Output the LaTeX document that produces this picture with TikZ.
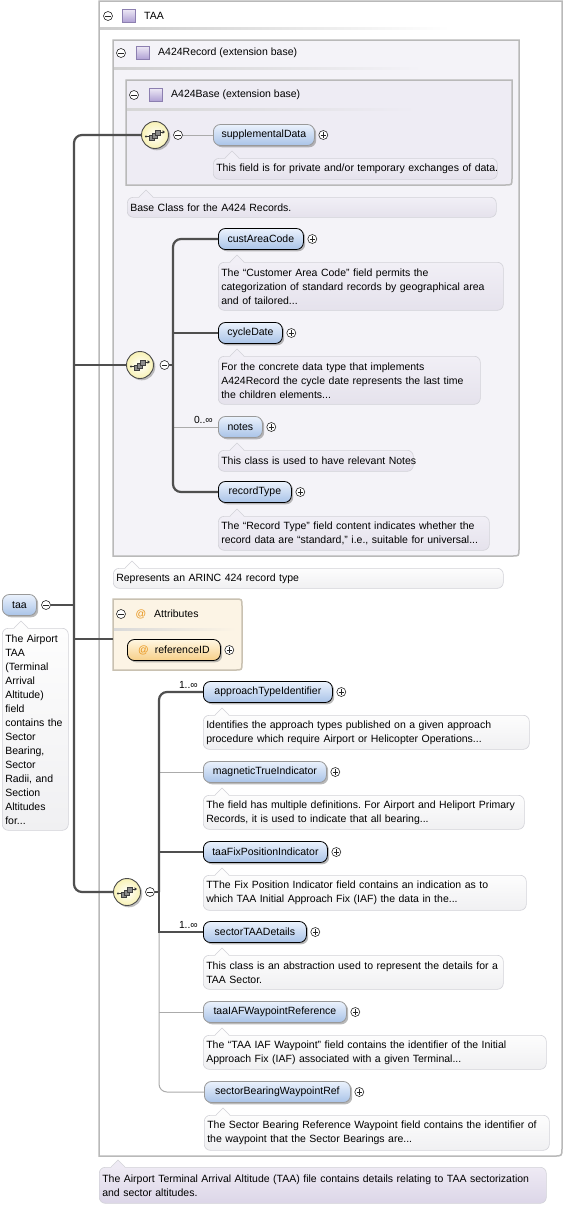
\documentclass[tikz,border=0pt]{standalone}
\usepackage{fontspec}
\setmainfont{Liberation Sans}
\usetikzlibrary{calc,shadows}
\frenchspacing
\definecolor{elTop}{HTML}{EBF2FC}
\definecolor{elBot}{HTML}{A9C3E7}
\definecolor{atTop}{HTML}{FFF7E2}
\definecolor{atBot}{HTML}{F7CF88}
\definecolor{atOrange}{HTML}{E8961E}
\definecolor{bubBorder}{HTML}{D2D2D8}
\definecolor{bubTop}{HTML}{FDFDFD}
\definecolor{bubBot}{HTML}{F0F0F2}
\definecolor{lavTop}{HTML}{F1EFF6}
\definecolor{lavBot}{HTML}{E5E2EC}
\definecolor{finTop}{HTML}{EEEAF4}
\definecolor{finBot}{HTML}{DCD6E8}
\definecolor{boxLine}{HTML}{B9B9B9}
\definecolor{recFill}{HTML}{F4F3F8}
\definecolor{baseFill}{HTML}{EEECF4}
\definecolor{attrFill}{HTML}{FCF4E5}
\definecolor{attrLine}{HTML}{C9C1B1}
\definecolor{connDark}{HTML}{4F4F4F}
\definecolor{connLight}{HTML}{ABABAB}
\definecolor{seqY}{HTML}{F8F2B4}
\definecolor{sqTop}{HTML}{ECE7F5}
\definecolor{sqBot}{HTML}{AE9FD3}
\definecolor{sqLine}{HTML}{8C7FB0}
\newcommand{\xfont}{\fontsize{10.5}{14}\selectfont}
\newcommand{\bubnotch}[2][bubTop]{%
 \fill[#1] ($(#2.north west)+(12,0.9)$) -- ($(#2.north west)+(19,-7)$) -- ($(#2.north west)+(26,0.9)$) -- cycle;
 \draw[bubBorder,line width=0.6pt] ($(#2.north west)+(12,0)$) -- ($(#2.north west)+(19,-7)$) -- ($(#2.north west)+(26,0)$);}
\begin{document}
\begin{tikzpicture}[x=1pt,y=-1pt,
 elem/.style={draw=black, line width=0.8pt, rounded corners=7pt, top color=elTop, bottom color=elBot, minimum height=21pt, inner sep=0pt, anchor=west, font=\xfont, drop shadow={shadow xshift=1.8pt, shadow yshift=-1.8pt, fill=black!50, opacity=0.55}},
 optelem/.style={elem, draw=black!40},
 attrelem/.style={elem, top color=atTop, bottom color=atBot},
 bubble/.style={draw=bubBorder, line width=0.6pt, rounded corners=6pt, top color=bubTop, bottom color=bubBot, anchor=north west, align=left, inner xsep=3pt, inner ysep=0pt, font=\xfont},
 lavbubble/.style={bubble, top color=lavTop, bottom color=lavBot},
 finbubble/.style={bubble, top color=finTop, bottom color=finBot},
 pm/.style={circle, draw=black!85, line width=0.6pt, fill=white, minimum size=9pt, inner sep=0pt},
 plusc/.style={pm, path picture={\draw[line width=0.6pt,black!85] ($(path picture bounding box.center)+(-2.6pt,0pt)$) -- ($(path picture bounding box.center)+(2.6pt,0pt)$) ($(path picture bounding box.center)+(0pt,-2.6pt)$) -- ($(path picture bounding box.center)+(0pt,2.6pt)$);}},
 minusc/.style={pm, path picture={\draw[line width=0.6pt,black!85] ($(path picture bounding box.center)+(-2.6pt,0pt)$) -- ($(path picture bounding box.center)+(2.6pt,0pt)$);}},
 seq/.style={circle, draw=black!70, line width=0.9pt, minimum size=27pt, inner sep=0pt, inner color=white, outer color=seqY, drop shadow={shadow xshift=1.8pt, shadow yshift=-1.8pt, fill=black!50, opacity=0.5},
  path picture={\begin{scope}[shift={(path picture bounding box.center)}, x=1pt, y=1pt]
   \fill[black!80] (-9,-1.5) circle (1.1);
   \draw[black!80, line width=0.7pt] (-9,-1.5) -- (-5,-1.5);
   \draw[black!75, fill=black!45, line width=0.5pt] (-6,-5.5) rectangle (-1,-0.5);
   \draw[black!75, fill=black!45, line width=0.5pt] (-3,-3) rectangle (2,2);
   \draw[black!75, fill=black!45, line width=0.5pt] (0,-0.5) rectangle (5,4.5);
   \draw[black!80, line width=0.7pt] (5,3) -- (8,3);
   \fill[black!80] (7.5,4.8) -- (10,3) -- (7.5,1.2) -- cycle;
  \end{scope}}},
 typesq/.style={draw=sqLine, line width=0.6pt, top color=sqTop, bottom color=sqBot, minimum size=13pt, inner sep=0pt},
 hdr/.style={anchor=west, inner sep=0pt, font=\xfont},
 mult/.style={anchor=east, inner sep=0pt, font=\fontsize{10.3}{12}\selectfont},
 thickc/.style={draw=connDark, line width=2.2pt},
 thinc/.style={draw=connLight, line width=1pt},
 boxl/.style={draw=boxLine, line width=1.5pt}]
\useasboundingbox (0,0) rectangle (564,1205);
\fill[white] (0,0) rectangle (564,1205);

% ---- TAA container
\draw[boxl, fill=white] (99,1) -- (562,1) -- (562,1148) .. controls (562,1156) .. (554,1156) -- (99,1156) -- cycle;
\shade[left color=black!20, right color=white] (100,27.5) rectangle (450,29.5);
\node[minusc] (mTAA) at (108,16) {};
\node[typesq] (sTAA) at (129,16) {};
\node[hdr] (hTAA) at (144,16) {TAA};

% ---- A424Record container
\draw[boxl, fill=recFill] (113,40) -- (519,40) -- (519,549) .. controls (519,556) .. (512,556) -- (113,556) -- cycle;
\shade[left color=black!18, right color=recFill] (114,67) rectangle (422,69);
\node[minusc] (mRec) at (121,53) {};
\node[typesq] (sRec) at (142.5,53) {};
\node[hdr] (hRec) at (158,53) {A424Record (extension base)};

% ---- A424Base container
\draw[boxl, fill=baseFill] (126,80) -- (512,80) -- (512,178) .. controls (512,185) .. (505,185) -- (126,185) -- cycle;
\shade[left color=black!16, right color=baseFill] (127,108) rectangle (417,110);
\node[minusc] (mBase) at (134,95) {};
\node[typesq] (sBase) at (156,95) {};
\node[hdr] (hBase) at (171,95) {A424Base (extension base)};

% ---- Attributes container
\draw[draw=attrLine, line width=1.5pt, fill=attrFill] (113,599) -- (235,599) .. controls (242,599) .. (242,606) -- (242,663) .. controls (242,670) .. (235,670) -- (113,670) -- cycle;
\shade[left color=black!15, right color=attrFill] (114,628) rectangle (236,630);
\node[minusc] (mAttr) at (121,614) {};
\node[hdr, text=atOrange] (atAttr) at (135.5,614) {@};
\node[hdr] (hAttr) at (154,614) {Attributes};
\coordinate (attrW) at (113,639);

% ---- bubbles
\node[lavbubble, text width=278pt, minimum height=21pt] (bSupp) at (213,158) {\mbox{This field is for private and/or temporary exchanges of data.}};
\bubnotch[lavTop]{bSupp}
\node[lavbubble, text width=363pt, minimum height=20pt] (bBase) at (127,197) {\mbox{Base Class for the A424 Records.}};
\bubnotch[lavTop]{bBase}
\node[lavbubble, text width=279pt, minimum height=48pt] (bCust) at (218,262) {\mbox{The “Customer Area Code” field permits the}\\\mbox{categorization of standard records by geographical area}\\\mbox{and of tailored...}};
\bubnotch[lavTop]{bCust}
\node[lavbubble, text width=256pt, minimum height=48pt] (bCyc) at (218,356) {\mbox{For the concrete data type that implements}\\\mbox{A424Record the cycle date represents the last time}\\\mbox{the children elements...}};
\bubnotch[lavTop]{bCyc}
\node[lavbubble, text width=189pt, minimum height=21pt] (bNotes) at (218,450) {\mbox{This class is used to have relevant Notes}};
\bubnotch[lavTop]{bNotes}
\node[lavbubble, text width=265pt, minimum height=34pt] (bRec) at (218,516) {\mbox{The “Record Type” field content indicates whether the}\\\mbox{record data are “standard,” i.e., suitable for universal...}};
\bubnotch[lavTop]{bRec}
\node[bubble, text width=384pt, minimum height=20pt] (bA424) at (113,568) {\mbox{Represents an ARINC 424 record type}};
\bubnotch{bA424}
\node[bubble, text width=60pt, minimum height=202pt] (bTaa) at (2,628) {\mbox{The Airport}\\TAA\\(Terminal\\Arrival\\Altitude)\\field\\\mbox{contains the}\\Sector\\Bearing,\\Sector\\\mbox{Radii, and}\\Section\\Altitudes\\for...};
\bubnotch{bTaa}
\node[bubble, text width=320pt, minimum height=34pt] (bAppr) at (203,715) {\mbox{Identifies the approach types published on a given approach}\\\mbox{procedure which require Airport or Helicopter Operations...}};
\bubnotch{bAppr}
\node[bubble, text width=315pt, minimum height=34pt] (bMag) at (203,795) {\mbox{The field has multiple definitions. For Airport and Heliport Primary}\\\mbox{Records, it is used to indicate that all bearing...}};
\bubnotch{bMag}
\node[bubble, text width=317pt, minimum height=35pt] (bFix) at (203,875) {\mbox{TThe Fix Position Indicator field contains an indication as to}\\\mbox{which TAA Initial Approach Fix (IAF) the data in the...}};
\bubnotch{bFix}
\node[bubble, text width=294pt, minimum height=34pt] (bSect) at (203,955) {\mbox{This class is an abstraction used to represent the details for a}\\\mbox{TAA Sector.}};
\bubnotch{bSect}
\node[bubble, text width=337pt, minimum height=34pt] (bIaf) at (203,1035) {\mbox{The “TAA IAF Waypoint” field contains the identifier of the Initial}\\\mbox{Approach Fix (IAF) associated with a given Terminal...}};
\bubnotch{bIaf}
\node[bubble, text width=339pt, minimum height=35pt] (bBear) at (204,1115) {\mbox{The Sector Bearing Reference Waypoint field contains the identifier of}\\\mbox{the waypoint that the Sector Bearings are...}};
\bubnotch{bBear}
\node[finbubble, text width=441pt, minimum height=36pt] (bFinal) at (99,1167) {\mbox{The Airport Terminal Arrival Altitude (TAA) file contains details relating to TAA sectorization}\\\mbox{and sector altitudes.}};
\bubnotch[finTop]{bFinal}

% ---- compositors
\node[seq] (seq1) at (155,135) {};
\node[minusc] (sm1) at (178,135) {};
\node[seq] (seq2) at (140,365) {};
\node[minusc] (sm2) at (164.5,365) {};
\node[seq] (seq3) at (127,892) {};
\node[minusc] (sm3) at (150,892) {};

% ---- elements
\node[optelem, minimum width=34pt] (taa) at (2,605) {taa};
\node[minusc] (mTaa) at (46,605) {};
\node[optelem, minimum width=101pt] (supp) at (213,135) {supplementalData};
\node[elem, minimum width=85pt] (cust) at (218,239) {custAreaCode};
\node[elem, minimum width=64pt] (cyc) at (218,333) {cycleDate};
\node[optelem, minimum width=44pt] (notes) at (218,427) {notes};
\node[elem, minimum width=73pt] (rec) at (218,492) {recordType};
\node[attrelem, minimum width=93pt] (refid) at (127,650) {\textcolor{atOrange}{@}\hspace{6pt}referenceID};
\node[elem, minimum width=129pt] (appr) at (203,692) {approachTypeIdentifier};
\node[optelem, minimum width=123pt] (mag) at (203,772) {magneticTrueIndicator};
\node[elem, minimum width=124pt] (fix) at (203,852) {taaFixPositionIndicator};
\node[elem, minimum width=103pt] (sect) at (203,932) {sectorTAADetails};
\node[optelem, minimum width=143pt] (iaf) at (203,1012) {taaIAFWaypointReference};
\node[optelem, minimum width=146pt] (bear) at (204,1092) {sectorBearingWaypointRef};

\foreach \n in {supp,cust,cyc,notes,rec,refid,appr,mag,fix,sect,iaf,bear}
  \node[plusc] (p\n) at ($(\n.east)+(8.5,0)$) {};

% ---- multiplicities
\node[mult] (mulNotes) at (213,419.5) {0..∞};
\node[mult] (mulAppr) at (198,685) {1..∞};
\node[mult] (mulSect) at (198,925) {1..∞};

% ---- connectors
\coordinate (vmain) at (74,605);
\coordinate (v2) at (173,365);
\coordinate (v3) at (159,892);
\draw[thickc] (mTaa.east) -- (vmain);
\draw[thickc, rounded corners=8pt] (seq1.west) -| (vmain) |- (seq3.west);
\draw[thickc] (seq2.west -| vmain) -- (seq2.west);
\draw[thickc] (attrW -| vmain) -- (attrW);
\draw[thinc] (sm1.east) -- (supp.west);

\draw[thickc] (sm2.east) -- (v2);
\draw[thinc] (notes.west -| v2) -- (notes.west);
\draw[thickc, rounded corners=8pt] (cust.west) -| (v2) |- (rec.west);
\draw[thickc] (cyc.west -| v2) -- (cyc.west);

\draw[thinc, rounded corners=8pt] (sect.west -| v3) |- (bear.west);
\draw[thinc] (mag.west -| v3) -- (mag.west);
\draw[thinc] (iaf.west -| v3) -- (iaf.west);
\draw[thickc] (sm3.east) -- (v3);
\draw[thickc, rounded corners=8pt] (appr.west) -| (v3);
\draw[thickc] (v3) |- (sect.west);
\draw[thickc] (fix.west -| v3) -- (fix.west);
\end{tikzpicture}
\end{document}
